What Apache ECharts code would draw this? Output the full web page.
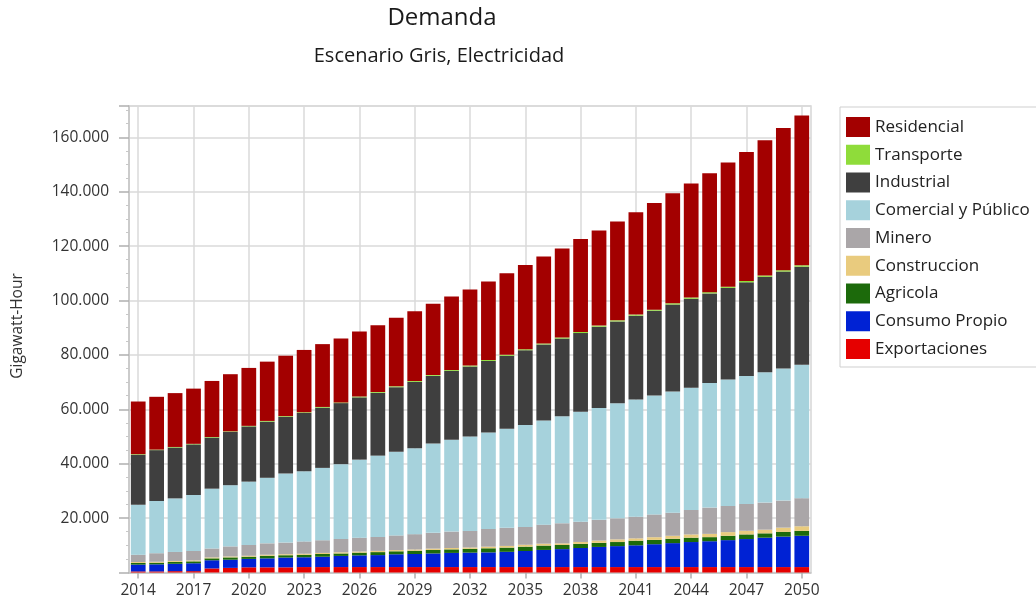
<!DOCTYPE html>
<html>
<head>
<meta charset="utf-8">
<title>Demanda - Escenario Gris, Electricidad</title>
<script src="https://cdn.jsdelivr.net/npm/echarts/dist/echarts.min.js"></script>
<style>
  html, body { margin: 0; padding: 0; background: #ffffff; }
  #chart { width: 1036px; height: 606px; }
</style>
</head>
<body>
<div id="chart"></div>
<script>
// Years on the horizontal axis
const years = ['2014','2015','2016','2017','2018','2019','2020','2021','2022','2023',
               '2024','2025','2026','2027','2028','2029','2030','2031','2032','2033',
               '2034','2035','2036','2037','2038','2039','2040','2041','2042','2043',
               '2044','2045','2046','2047','2048','2049','2050'];

// Electricity demand by sector, Gigawatt-Hour
const exportaciones = [400,400,500,500,1500,1700,1900,1900,1900,2000,
                       2000,2000,2000,2000,2000,2000,2000,2000,2000,2000,
                       2000,2000,2000,2000,2000,2000,2000,2000,2000,2000,
                       2000,2000,2000,2000,2000,2000,2000];
const consumoPropio = [2500,2600,2700,2900,3000,3000,3100,3300,3600,3600,
                       3800,4100,4300,4400,4700,4800,5000,5200,5300,5400,
                       5600,5900,6300,6600,7000,7400,7700,8000,8400,8800,
                       9200,9500,9900,10300,10800,11200,11500];
const agricola = [600,600,700,700,700,850,800,950,850,900,
                  1000,900,1000,1100,1100,1200,1300,1300,1400,1500,
                  1550,1600,1600,1500,1500,1500,1500,1700,1600,1600,
                  1600,1500,1600,1700,1600,1700,1800];
const construccion = [350,350,350,350,350,350,350,380,380,400,
                      400,420,420,450,450,470,480,500,500,600,
                      620,700,700,620,730,850,980,860,980,1100,
                      1200,1200,1350,1350,1350,1600,1700];
const minero = [2660,3140,3300,3450,3270,3700,3960,4190,4270,4520,
                4660,4910,5070,5120,5380,5630,5790,6040,6080,6510,
                6660,6570,7000,7380,7400,7610,7720,7950,8360,8470,
                8980,9660,9620,9830,9940,9930,10320];
const comercialPublico = [18400,19200,19700,20600,22000,22500,23300,24100,25400,25800,
                          26600,27500,28700,29900,30800,31600,32900,33800,34700,35500,
                          36400,37500,38300,39300,40500,41100,42300,43100,43700,44600,
                          44900,45800,46500,47100,47900,48600,49100];
const industrial = [18400,18700,18700,18600,18800,19600,20300,20650,20850,21450,
                    22150,22450,22900,23100,23700,24400,24800,25300,25750,26250,
                    26850,27450,27950,28600,28900,29900,30100,30800,31200,31950,
                    32750,32950,33650,34400,35100,35600,36000];
const transporte = [200,200,200,200,200,200,200,250,250,250,
                    250,250,300,300,300,300,300,300,350,350,
                    350,350,350,400,400,400,400,400,400,450,
                    450,450,450,500,500,500,500];
const residencial = [19350,19400,19800,20300,20600,21000,21300,21800,22200,22900,
                     23100,23500,23900,24500,25200,25600,26200,27000,28000,28900,
                     30000,31000,32000,32700,34200,35000,36300,37600,39200,40500,
                     41900,43700,45700,47400,49700,52300,55100];

// Legend order (top to bottom)
const legendOrder = ['Residencial','Transporte','Industrial','Comercial y Público','Minero',
                     'Construccion','Agricola','Consumo Propio','Exportaciones'];

const FONT = "'Open Sans', 'Noto Sans', 'DejaVu Sans', sans-serif";

// Stacked from the bottom up
const stackDefs = [
  { name: 'Exportaciones',       data: exportaciones,    color: '#e50000' },
  { name: 'Consumo Propio',      data: consumoPropio,    color: '#0022d4' },
  { name: 'Agricola',            data: agricola,         color: '#1c6a0b' },
  { name: 'Construccion',        data: construccion,     color: '#e9cb7e' },
  { name: 'Minero',              data: minero,           color: '#aaa6a8' },
  { name: 'Comercial y Público', data: comercialPublico, color: '#a6d2dc' },
  { name: 'Industrial',          data: industrial,       color: '#3f3f3f' },
  { name: 'Transporte',          data: transporte,       color: '#8fdc3a' },
  { name: 'Residencial',         data: residencial,      color: '#a30000' }
];

function thousands(v) {
  if (v === 0) return '';
  return String(Math.round(v)).replace(/\B(?=(\d{3})+(?!\d))/g, '.');
}

const chart = echarts.init(document.getElementById('chart'), null, { renderer: 'canvas' });

chart.setOption({
  animation: false,
  backgroundColor: '#ffffff',
  textStyle: { fontFamily: FONT },
  graphic: [
    { type: 'text', x: 442, y: 18,
      style: { text: 'Demanda', fontSize: 24, fontFamily: FONT, fill: '#1a1a1a', align: 'center', verticalAlign: 'middle' } },
    { type: 'text', x: 439, y: 56,
      style: { text: 'Escenario Gris, Electricidad', fontSize: 20, fontFamily: FONT, fill: '#1a1a1a', align: 'center', verticalAlign: 'middle' } },
    { type: 'text', x: 18, y: 326, rotation: Math.PI / 2,
      style: { text: 'Gigawatt-Hour', fontSize: 15.5, fontFamily: FONT, fill: '#333333', align: 'center', verticalAlign: 'middle' } }
  ],
  legend: {
    orient: 'vertical',
    left: 840,
    top: 107,
    padding: [10, 14, 8, 6],
    itemWidth: 24,
    itemHeight: 20,
    itemGap: 7.75,
    icon: 'rect',
    borderColor: '#cfcfcf',
    borderWidth: 1,
    selectedMode: false,
    textStyle: { fontSize: 17, color: '#222222', fontFamily: FONT, lineHeight: 20 },
    data: legendOrder
  },
  grid: {
    left: 129,
    right: 225,
    top: 106,
    bottom: 33.5,
    show: true,
    borderColor: '#d6d6d6',
    borderWidth: 1.5
  },
  xAxis: {
    type: 'category',
    data: years,
    boundaryGap: true,
    axisLine: { show: true, lineStyle: { color: '#c4c4c4', width: 1.5 } },
    axisTick: { show: true, interval: 2, alignWithLabel: true, length: 6, lineStyle: { color: '#b0b0b0', width: 1.5 } },
    axisLabel: { interval: 2, fontSize: 15.5, color: '#333333', margin: 10, fontFamily: FONT },
    splitLine: { show: true, interval: 2, alignWithLabel: true, lineStyle: { color: '#dadada', width: 1.5 } }
  },
  yAxis: {
    type: 'value',
    min: 0,
    max: 171500,
    interval: 20000,
    axisLine: { show: true, lineStyle: { color: '#c4c4c4', width: 1.5 } },
    axisTick: { show: true, length: 10, lineStyle: { color: '#b0b0b0', width: 1.5 } },
    minorTick: { show: true, splitNumber: 4, length: 3, lineStyle: { color: '#c8c8c8' } },
    axisLabel: { formatter: thousands, fontSize: 15.5, color: '#333333', margin: 20, showMaxLabel: false, fontFamily: FONT },
    splitLine: { show: true, lineStyle: { color: '#dadada', width: 1.5 } }
  },
  series: stackDefs.map(function (s) {
    return {
      name: s.name,
      type: 'bar',
      stack: 'demanda',
      barCategoryGap: '20%',
      data: s.data,
      itemStyle: { color: s.color },
      emphasis: { disabled: true }
    };
  })
});
</script>
</body>
</html>
